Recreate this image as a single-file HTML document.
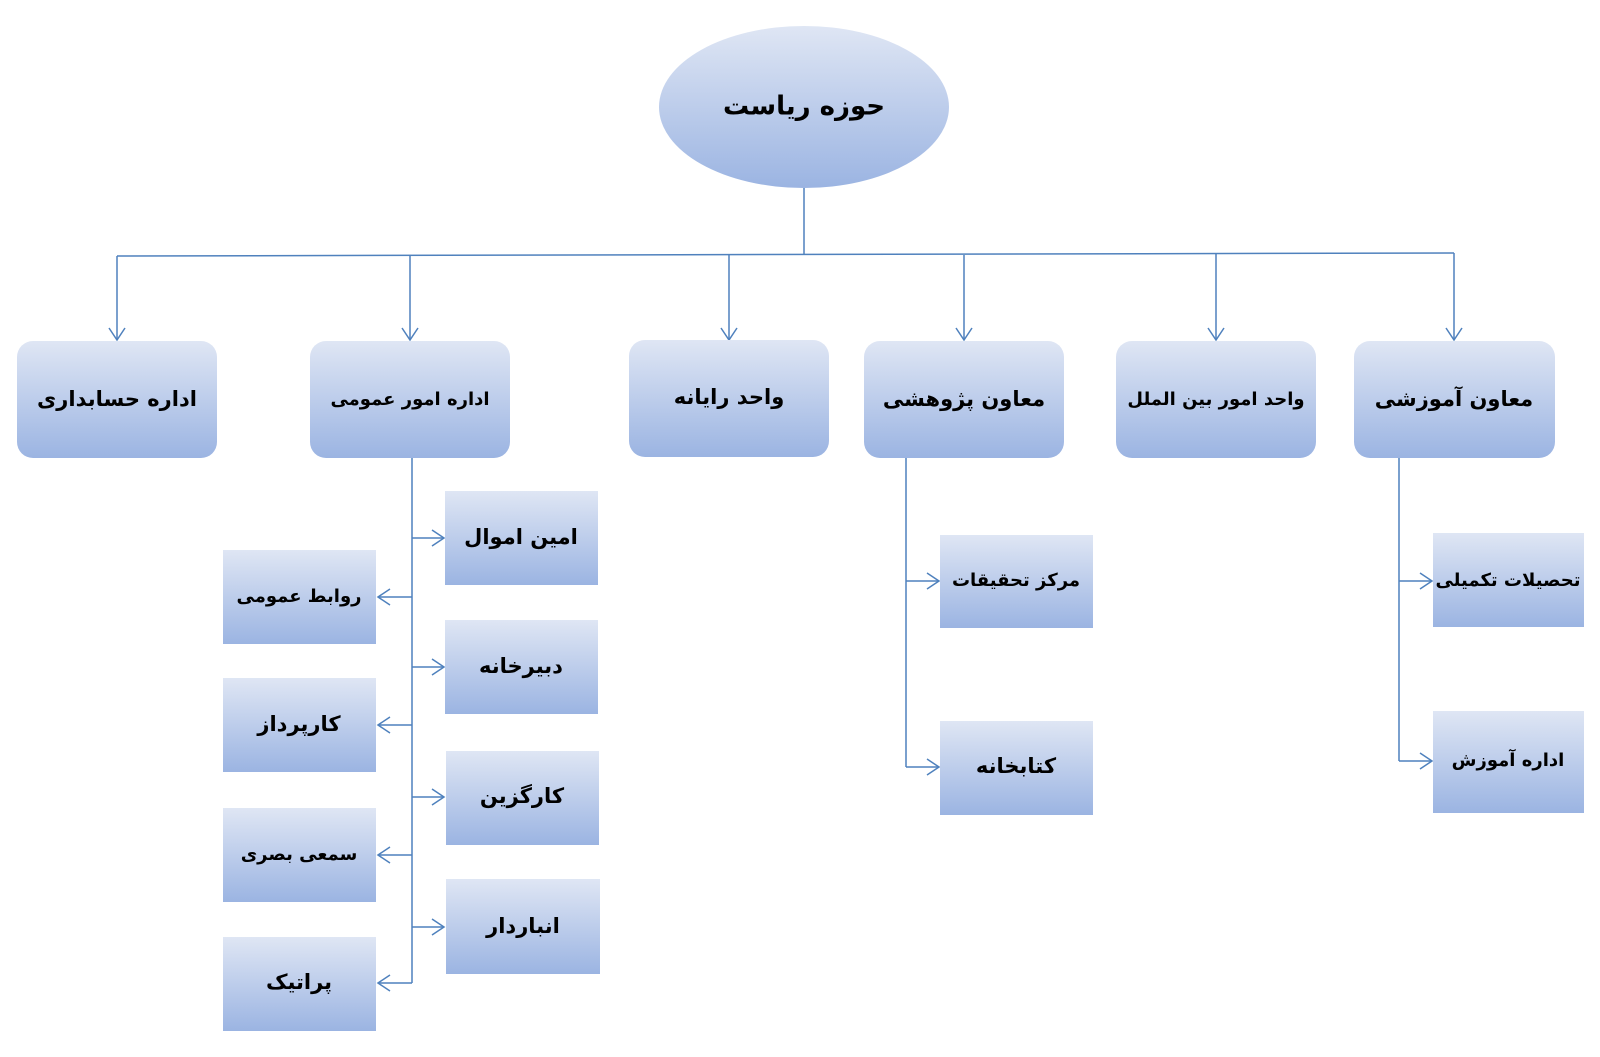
<!DOCTYPE html>
<html><head><meta charset="utf-8"><style>html,body{margin:0;padding:0;background:#fff}svg text{font-family:"DejaVu Sans",sans-serif;font-size:21px;font-weight:bold;fill:#000;text-anchor:middle;dominant-baseline:middle}svg text.s{font-size:18px}</style></head>
<body>
<svg width="1600" height="1052" viewBox="0 0 1600 1052" xmlns="http://www.w3.org/2000/svg">
<defs>
<linearGradient id="g" x1="0" y1="0" x2="0" y2="1"><stop offset="0" stop-color="#dfe6f4"/><stop offset="1" stop-color="#9bb4e2"/></linearGradient>
<marker id="a" markerWidth="16" markerHeight="18" refX="13" refY="9" orient="auto" markerUnits="userSpaceOnUse"><path d="M1,1 L13,9 L1,17" fill="none" stroke="#4f81bd" stroke-width="1.5"/></marker>
</defs>
<g stroke="#4f81bd" stroke-width="1.5" fill="none">
<line x1="804" y1="188" x2="804" y2="254"/>
<line x1="117" y1="256" x2="1454" y2="253"/>
<line x1="117" y1="256" x2="117" y2="340" marker-end="url(#a)"/>
<line x1="410" y1="256" x2="410" y2="340" marker-end="url(#a)"/>
<line x1="729" y1="255" x2="729" y2="340" marker-end="url(#a)"/>
<line x1="964" y1="255" x2="964" y2="340" marker-end="url(#a)"/>
<line x1="1216" y1="254" x2="1216" y2="340" marker-end="url(#a)"/>
<line x1="1454" y1="253" x2="1454" y2="340" marker-end="url(#a)"/>
<line x1="412" y1="458" x2="412" y2="983"/>
<line x1="412" y1="538" x2="444" y2="538" marker-end="url(#a)"/>
<line x1="412" y1="667" x2="444" y2="667" marker-end="url(#a)"/>
<line x1="412" y1="797" x2="444" y2="797" marker-end="url(#a)"/>
<line x1="412" y1="927" x2="444" y2="927" marker-end="url(#a)"/>
<line x1="412" y1="597" x2="378" y2="597" marker-end="url(#a)"/>
<line x1="412" y1="725" x2="378" y2="725" marker-end="url(#a)"/>
<line x1="412" y1="855" x2="378" y2="855" marker-end="url(#a)"/>
<line x1="412" y1="983" x2="378" y2="983" marker-end="url(#a)"/>
<line x1="906" y1="458" x2="906" y2="767"/>
<line x1="906" y1="581" x2="939" y2="581" marker-end="url(#a)"/>
<line x1="906" y1="767" x2="939" y2="767" marker-end="url(#a)"/>
<line x1="1399" y1="458" x2="1399" y2="761"/>
<line x1="1399" y1="581" x2="1432" y2="581" marker-end="url(#a)"/>
<line x1="1399" y1="761" x2="1432" y2="761" marker-end="url(#a)"/>
</g>
<g fill="url(#g)">
<ellipse cx="804" cy="107" rx="145" ry="81"/>
<rect x="17" y="341" width="200" height="117" rx="16"/>
<rect x="310" y="341" width="200" height="117" rx="16"/>
<rect x="629" y="340" width="200" height="117" rx="16"/>
<rect x="864" y="341" width="200" height="117" rx="16"/>
<rect x="1116" y="341" width="200" height="117" rx="16"/>
<rect x="1354" y="341" width="201" height="117" rx="16"/>
<rect x="445" y="491" width="153" height="94"/>
<rect x="445" y="620" width="153" height="94"/>
<rect x="446" y="751" width="153" height="94"/>
<rect x="446" y="879" width="154" height="95"/>
<rect x="223" y="550" width="153" height="94"/>
<rect x="223" y="678" width="153" height="94"/>
<rect x="223" y="808" width="153" height="94"/>
<rect x="223" y="937" width="153" height="94"/>
<rect x="940" y="535" width="153" height="93"/>
<rect x="940" y="721" width="153" height="94"/>
<rect x="1433" y="533" width="151" height="94"/>
<rect x="1433" y="711" width="151" height="102"/>
</g>
<g>
<text x="804" y="107" style="font-size:26px">حوزه ریاست</text>
<text x="117" y="400">اداره حسابداری</text>
<text x="410" y="400" class="s">اداره امور عمومی</text>
<text x="729" y="398">واحد رایانه</text>
<text x="964" y="400">معاون پژوهشی</text>
<text x="1216" y="400" class="s">واحد امور بین الملل</text>
<text x="1454" y="400">معاون آموزشی</text>
<text x="521" y="538">امین اموال</text>
<text x="521" y="667">دبیرخانه</text>
<text x="522" y="797">کارگزین</text>
<text x="523" y="927">انباردار</text>
<text x="299" y="597" class="s">روابط عمومی</text>
<text x="299" y="725">کارپرداز</text>
<text x="299" y="855" class="s">سمعی بصری</text>
<text x="299" y="983">پراتیک</text>
<text x="1016" y="581" class="s">مرکز تحقیقات</text>
<text x="1016" y="767">کتابخانه</text>
<text x="1508" y="581" class="s">تحصیلات تکمیلی</text>
<text x="1508" y="761" class="s">اداره آموزش</text>
</g>
</svg>
</body></html>
